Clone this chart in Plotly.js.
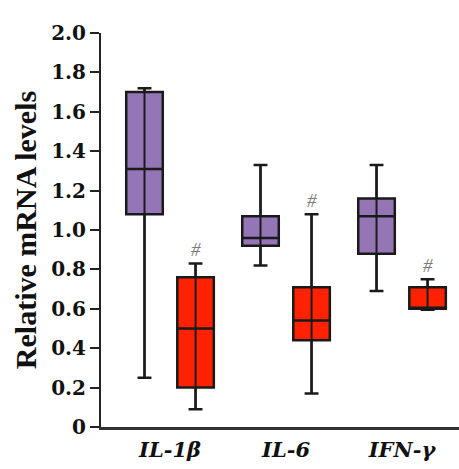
<!DOCTYPE html>
<html><head><meta charset="utf-8">
<script src="https://cdn.plot.ly/plotly-3.0.1.min.js"></script>
<style>html,body{margin:0;padding:0;background:#fff}#chart{width:459px;height:469px}</style>
</head><body><div id="chart"></div>
<script>
const categories = ['IL-1β', 'IL-6', 'IFN-γ'];
const controlLower  = [0.25, 0.82, 0.69];
const controlQ1     = [1.08, 0.92, 0.88];
const controlMedian = [1.31, 0.96, 1.07];
const controlQ3     = [1.70, 1.07, 1.16];
const controlUpper  = [1.72, 1.33, 1.33];
const treatedLower  = [0.09, 0.17, 0.595];
const treatedQ1     = [0.20, 0.44, 0.60];
const treatedMedian = [0.50, 0.54, 0.60];
const treatedQ3     = [0.76, 0.71, 0.71];
const treatedUpper  = [0.83, 1.08, 0.75];
const treatedMark   = ['#', '#', '#'];
const yTickVals = [0, 0.2, 0.4, 0.6, 0.8, 1.0, 1.2, 1.4, 1.6, 1.8, 2.0];
const yTickText = ['0', '0.2', '0.4', '0.6', '0.8', '1.0', '1.2', '1.4', '1.6', '1.8', '2.0'];

const OFF = 0.22;
const catIdx = categories.map((c, i) => i);
const xCtrl = catIdx.map(i => i - OFF);
const xTrt = catIdx.map(i => i + OFF);

function boxTrace(x, lo, q1, med, q3, hi, fill) {
  return {
    type: 'box', x: x, q1: q1, median: med, q3: q3, lowerfence: lo, upperfence: hi,
    width: 0.315, whiskerwidth: 0.38, fillcolor: fill,
    line: {color: '#1a1a1a', width: 2.5}, showlegend: false, hoverinfo: 'skip'
  };
}
function stemTrace(x, lo, hi) {
  const xs = [], ys = [];
  x.forEach((v, i) => { xs.push(v, v, null); ys.push(lo[i], hi[i], null); });
  return {type: 'scatter', mode: 'lines', x: xs, y: ys, line: {color: '#1a1a1a', width: 2},
          showlegend: false, hoverinfo: 'skip'};
}

const data = [
  boxTrace(xCtrl, controlLower, controlQ1, controlMedian, controlQ3, controlUpper, '#9476B6'),
  boxTrace(xTrt, treatedLower, treatedQ1, treatedMedian, treatedQ3, treatedUpper, '#FF2200'),
  stemTrace(xCtrl, controlLower, controlUpper),
  stemTrace(xTrt, treatedLower, treatedUpper)
];

const annotations = treatedMark.map((t, i) => ({
  x: xTrt[i], y: treatedUpper[i], xref: 'x', yref: 'y', text: t, showarrow: false,
  yanchor: 'bottom', yshift: 1,
  font: {family: 'Liberation Serif', size: 19, color: '#7a7a7a', style: 'italic'}
}));

const layout = {
  width: 459, height: 469,
  margin: {l: 101, r: 0, t: 33, b: 42},
  paper_bgcolor: '#fff', plot_bgcolor: '#fff',
  xaxis: {
    range: [-0.595, 2.491], tickvals: catIdx, ticktext: categories,
    showgrid: false, zeroline: false, showline: true, linecolor: '#333', linewidth: 3,
    ticks: '', ticklabelstandoff: 2,
    tickfont: {family: 'DejaVu Serif', size: 21, weight: 'bold', style: 'italic', color: '#111'}
  },
  yaxis: {
    range: [0, 2], tickvals: yTickVals, ticktext: yTickText,
    showgrid: false, zeroline: false, showline: true, linecolor: '#222', linewidth: 2,
    ticks: 'outside', ticklen: 9, tickwidth: 2, tickcolor: '#222',
    tickfont: {family: 'DejaVu Serif', size: 20, weight: 'bold', color: '#111'},
    title: {text: 'Relative mRNA levels', standoff: 6,
            font: {family: 'Liberation Serif', size: 30, weight: 'bold', color: '#111'}}
  },
  annotations: annotations
};
Plotly.newPlot('chart', data, layout, {displayModeBar: false, staticPlot: true});
</script></body></html>
